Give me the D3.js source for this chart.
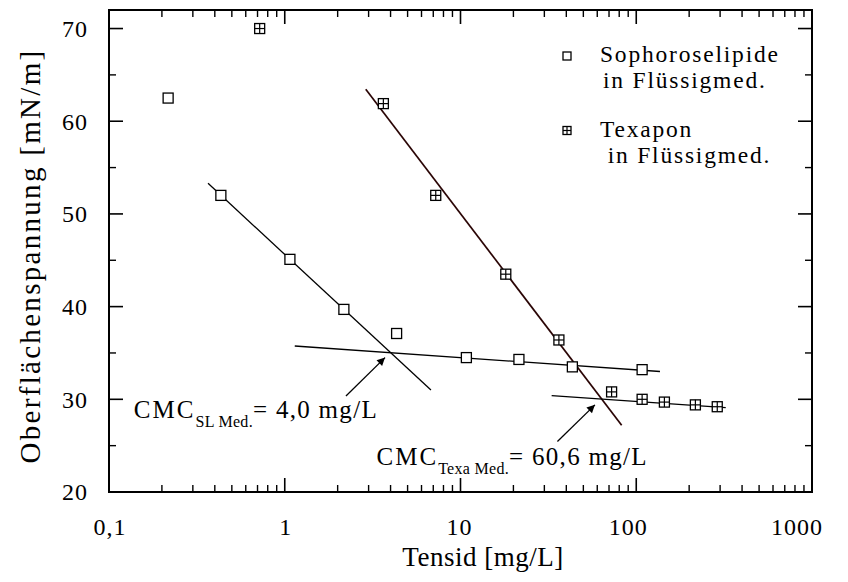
<!DOCTYPE html>
<html><head><meta charset="utf-8">
<script src="https://cdn.jsdelivr.net/npm/d3@7"></script>
<style>
body{margin:0;background:#fff;}
svg{display:block;font-family:"Liberation Serif","Times New Roman",serif;}
</style></head>
<body><svg id="c" width="848" height="582"></svg>
<script>
// ---- data ----
const slX = [0.217, 0.433, 1.07, 2.17, 4.33, 10.8, 21.5, 43.3, 108];
const slY = [62.5, 52.0, 45.1, 39.7, 37.1, 34.5, 34.3, 33.5, 33.2];
const texX = [0.72, 3.64, 7.23, 18.1, 36.3, 72.4, 108, 144.6, 217, 289];
const texY = [70.0, 61.9, 52.0, 43.5, 36.4, 30.8, 30.0, 29.7, 29.4, 29.2];
// fit lines (endpoints in data units)
const fitSlSteep = [[0.366, 53.3], [6.79, 31.0]];
const fitSlFlat  = [[1.14, 35.75], [136.5, 33.0]];
const fitTexSteep = [[2.89, 63.45], [82.6, 27.2]];
const fitTexFlat  = [[33.0, 30.4], [323, 29.1]];
// annotations: arrow tail -> tip (data units), label anchor
const arrowSl  = [[2.23, 30.36], [3.72, 34.5]];
const arrowTex = [[35.6, 25.45], [58.2, 29.4]];
const labelSl  = {x: 0.1385, y: 27.98, main: "CMC", sub: "SL Med.", rest: "= 4,0 mg/L"};
const labelTex = {x: 3.33, y: 22.9, main: "CMC", sub: "Texa Med.", rest: "= 60,6 mg/L"};
const xTicks = [0.1, 1, 10, 100, 1000];
const xTickLabels = ["0,1", "1", "10", "100", "1000"];
const yTicks = [20, 30, 40, 50, 60, 70];
const yMinor = [25, 35, 45, 55, 65];
const legendLabels = [["Sophoroselipide", "in Flüssigmed."], ["Texapon", " in Flüssigmed."]];
const xTitle = "Tensid [mg/L]";
const yTitle = "Oberflächenspannung [mN/m]";

// ---- layout ----
const L = 109, R = 812, T = 10, B = 492;
const x = d3.scaleLog().domain([0.1, 1000]).range([L, R]);
const y = d3.scaleLinear().domain([20, 72]).range([B, T]);
const svg = d3.select("#c");
const xLabelShift = [1, 1, -1, -8, -15];

// minor x ticks
const xMinor = [];
for (let e = -1; e < 3; e++) for (let k = 2; k <= 9; k++) xMinor.push(k * Math.pow(10, e));

const g = svg.append("g").attr("stroke", "#000").attr("fill", "none");
g.append("rect").attr("x", L).attr("y", T).attr("width", R - L).attr("height", B - T).attr("stroke-width", 2);
xTicks.forEach(v => {
  g.append("line").attr("x1", x(v)).attr("x2", x(v)).attr("y1", B).attr("y2", B - 14).attr("stroke-width", 1.6);
  g.append("line").attr("x1", x(v)).attr("x2", x(v)).attr("y1", T).attr("y2", T + 14).attr("stroke-width", 1.6);
});
xMinor.forEach(v => {
  g.append("line").attr("x1", x(v)).attr("x2", x(v)).attr("y1", B).attr("y2", B - 7).attr("stroke-width", 1.4);
  g.append("line").attr("x1", x(v)).attr("x2", x(v)).attr("y1", T).attr("y2", T + 7).attr("stroke-width", 1.4);
});
yTicks.forEach(v => {
  g.append("line").attr("x1", L).attr("x2", L + 14).attr("y1", y(v)).attr("y2", y(v)).attr("stroke-width", 1.6);
  g.append("line").attr("x1", R).attr("x2", R - 14).attr("y1", y(v)).attr("y2", y(v)).attr("stroke-width", 1.6);
});
yMinor.forEach(v => {
  g.append("line").attr("x1", L).attr("x2", L + 7).attr("y1", y(v)).attr("y2", y(v)).attr("stroke-width", 1.4);
  g.append("line").attr("x1", R).attr("x2", R - 7).attr("y1", y(v)).attr("y2", y(v)).attr("stroke-width", 1.4);
});

// tick labels
const tl = svg.append("g").attr("font-size", 24).attr("fill", "#000");
xTicks.forEach((v, i) => tl.append("text").attr("x", x(v) + xLabelShift[i]).attr("y", B + 43).attr("text-anchor", "middle").attr("letter-spacing", 1).text(xTickLabels[i]));
yTicks.forEach(v => tl.append("text").attr("x", L - 21).attr("y", y(v)).attr("dy", "0.35em").attr("text-anchor", "end").attr("letter-spacing", 1).text(v));

// titles
svg.append("text").attr("x", 483).attr("y", 566).attr("text-anchor", "middle").attr("font-size", 27).attr("letter-spacing", 0.5).text(xTitle);
svg.append("text").attr("transform", "translate(40," + ((T + B) / 2 + 5) + ") rotate(-90)").attr("text-anchor", "middle").attr("font-size", 29).attr("letter-spacing", 2.3).text(yTitle);

// fit lines
const line = d3.line().x(d => x(d[0])).y(d => y(d[1]));
const fg = svg.append("g").attr("fill", "none");
fg.append("path").attr("d", line(fitSlSteep)).attr("stroke", "#000").attr("stroke-width", 1.3);
fg.append("path").attr("d", line(fitSlFlat)).attr("stroke", "#000").attr("stroke-width", 1.3);
fg.append("path").attr("d", line(fitTexSteep)).attr("stroke", "#2a0505").attr("stroke-width", 1.7);
fg.append("path").attr("d", line(fitTexFlat)).attr("stroke", "#000").attr("stroke-width", 1.3);

// markers
function openSq(sel, cx, cy, s) {
  sel.append("rect").attr("x", cx - s / 2).attr("y", cy - s / 2).attr("width", s).attr("height", s)
    .attr("fill", "#fff").attr("stroke", "#000").attr("stroke-width", 1.3);
}
function crossSq(sel, cx, cy, s) {
  openSq(sel, cx, cy, s);
  sel.append("line").attr("x1", cx).attr("x2", cx).attr("y1", cy - s / 2).attr("y2", cy + s / 2).attr("stroke", "#000").attr("stroke-width", 1.2);
  sel.append("line").attr("x1", cx - s / 2).attr("x2", cx + s / 2).attr("y1", cy).attr("y2", cy).attr("stroke", "#000").attr("stroke-width", 1.2);
}
const mg = svg.append("g");
slX.forEach((v, i) => openSq(mg, x(v), y(slY[i]), 10));
texX.forEach((v, i) => crossSq(mg, x(v), y(texY[i]), 10));

// arrows
svg.append("defs").append("marker").attr("id", "ah").attr("viewBox", "0 0 10 10").attr("refX", 10).attr("refY", 5)
  .attr("markerWidth", 12).attr("markerHeight", 8).attr("markerUnits", "userSpaceOnUse").attr("orient", "auto")
  .append("path").attr("d", "M0,0 L10,5 L0,10 z").attr("fill", "#000");
[arrowSl, arrowTex].forEach(a => {
  svg.append("path").attr("d", line(a)).attr("stroke", "#000").attr("stroke-width", 1.3).attr("fill", "none").attr("marker-end", "url(#ah)");
});

// CMC labels
[labelSl, labelTex].forEach(lb => {
  const t = svg.append("text").attr("x", x(lb.x)).attr("y", y(lb.y)).attr("font-size", 25).attr("letter-spacing", 1.3);
  t.append("tspan").attr("letter-spacing", 2).text(lb.main);
  t.append("tspan").attr("font-size", 16).attr("dy", 9).attr("letter-spacing", 0.3).text(lb.sub);
  t.append("tspan").attr("dy", -9).text(lb.rest);
});

// legend
const lg = svg.append("g");
openSq(lg, 567, 56, 8);
crossSq(lg, 567, 130.5, 8);
const ltx = [[600, 62], [603, 88], [600, 137], [600, 163]];
[legendLabels[0][0], legendLabels[0][1], legendLabels[1][0], legendLabels[1][1]].forEach((s, i) => {
  lg.append("text").attr("x", ltx[i][0]).attr("y", ltx[i][1]).attr("font-size", 23.5).attr("letter-spacing", 1.8).attr("xml:space", "preserve").style("white-space", "pre").text(s);
});
</script></body></html>
